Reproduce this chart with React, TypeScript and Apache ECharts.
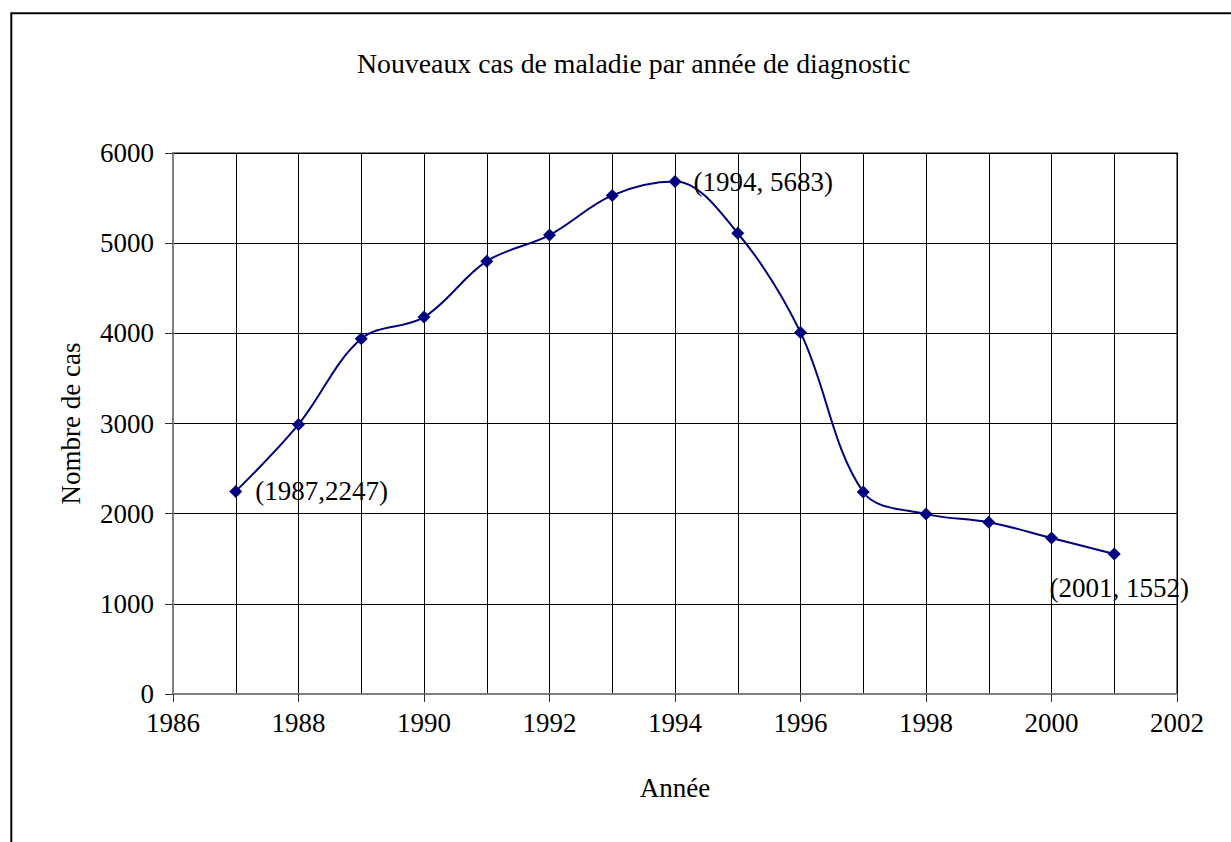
import React, { useEffect, useRef } from "react";
import * as echarts from "echarts";

const years = [1987, 1988, 1989, 1990, 1991, 1992, 1993, 1994, 1995, 1996, 1997, 1998, 1999, 2000, 2001];
const cases = [2247, 2990, 3940, 4180, 4800, 5090, 5530, 5683, 5110, 4010, 2240, 1995, 1905, 1730, 1552];
const labelTexts: Record<number, string> = {
  1987: "(1987,2247)",
  1994: "(1994, 5683)",
  2001: "(2001, 1552)",
};
const titleText = "Nouveaux cas de maladie par année de diagnostic";
const xName = "Année";
const yName = "Nombre de cas";

const FONT = "'Liberation Serif', 'Times New Roman', serif";

export default function App() {
  const ref = useRef<HTMLDivElement>(null);
  useEffect(() => {
    if (!ref.current) return;
    const chart = echarts.init(ref.current, undefined, { renderer: "svg" });
    const labelPos: Record<number, any> = {
      1987: { position: "right", distance: 13 },
      1994: { position: "right", distance: 12 },
      2001: { position: "bottom", distance: 14, offset: [5, 0] },
    };
    const data = years.map((y, i) => {
      const item: any = { value: [y, cases[i]] };
      if (labelTexts[y]) {
        item.label = {
          show: true,
          formatter: labelTexts[y],
          fontFamily: FONT,
          fontSize: 27,
          color: "#000",
          ...labelPos[y],
        };
      }
      return item;
    });
    chart.setOption({
      animation: false,
      backgroundColor: "#fff",
      title: {
        text: titleText,
        left: 352,
        top: 44,
        textStyle: { fontFamily: FONT, fontSize: 27.8, fontWeight: "normal", color: "#000" },
      },
      graphic: [
        {
          type: "rect",
          shape: { x: 11.3, y: 13.3, width: 1400, height: 1000 },
          style: { fill: "none", stroke: "#000", lineWidth: 2 },
          silent: true,
        },
      ],
      grid: {
        left: 173,
        top: 153,
        right: 54,
        bottom: 148,
        show: true,
        borderColor: "#808080",
        borderWidth: 2,
      },
      xAxis: {
        type: "value",
        min: 1986,
        max: 2002,
        interval: 2,
        name: xName,
        nameLocation: "middle",
        nameGap: 80,
        nameTextStyle: { fontFamily: FONT, fontSize: 27, color: "#000" },
        axisLine: { show: true, lineStyle: { color: "#808080", width: 2 } },
        axisTick: { show: true, length: 8, lineStyle: { color: "#333" } },
        axisLabel: {
          fontFamily: FONT,
          fontSize: 27,
          color: "#000",
          margin: 15,
          formatter: (v: number) => String(v),
        },
        splitLine: { show: true, lineStyle: { color: "#000", width: 1 } },
        minorTick: { show: false, splitNumber: 2 },
        minorSplitLine: { show: true, lineStyle: { color: "#000", width: 1 } },
      },
      yAxis: {
        type: "value",
        min: 0,
        max: 6000,
        interval: 1000,
        name: yName,
        nameLocation: "middle",
        nameGap: 89,
        nameTextStyle: { fontFamily: FONT, fontSize: 27, color: "#000" },
        axisLine: { show: true, lineStyle: { color: "#808080", width: 2 } },
        axisTick: { show: true, length: 8, lineStyle: { color: "#333" } },
        axisLabel: {
          fontFamily: FONT,
          fontSize: 27,
          color: "#000",
          margin: 19,
          formatter: (v: number) => String(v),
        },
        splitLine: { show: true, lineStyle: { color: "#000", width: 1 } },
      },
      series: [
        {
          type: "line",
          data,
          smooth: 0.35,
          symbol: "diamond",
          symbolSize: 13,
          lineStyle: { color: "#000080", width: 2 },
          itemStyle: { color: "#000080" },
        },
      ],
    });
    return () => chart.dispose();
  }, []);
  return (
    <div
      ref={ref}
      style={{ position: "absolute", left: 0, top: 0, width: 1231, height: 842 }}
    />
  );
}
